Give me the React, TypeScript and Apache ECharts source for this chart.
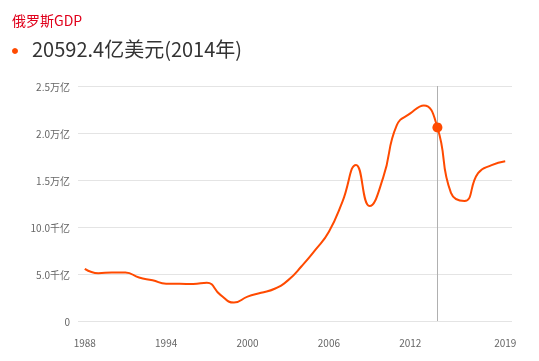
import React, { useEffect, useRef } from "react";
import * as echarts from "echarts";

const years = [
  "1988", "1989", "1990", "1991", "1992", "1993", "1994", "1995", "1996", "1997",
  "1998", "1999", "2000", "2001", "2002", "2003", "2004", "2005", "2006", "2007",
  "2008", "2009", "2010", "2011", "2012", "2013", "2014", "2015", "2016", "2017",
  "2018", "2019",
];
const gdp = [
  5540, 5080, 5168, 5160, 4620, 4330, 3960, 3955, 3930, 4080,
  2780, 1960, 2597, 3000, 3430, 4350, 5850, 7560, 9500, 12700,
  16608, 12236, 15249, 20800, 22083, 22925, 20592.4, 13635, 12768, 15742,
  16576, 16999,
];
const xLabelYears = ["1988", "1994", "2000", "2006", "2012", "2019"];
const yTickValues = [0, 5000, 10000, 15000, 20000, 25000];
const yTickLabels = ["0", "5.0千亿", "10.0千亿", "1.5万亿", "2.0万亿", "2.5万亿"];
const titleText = "俄罗斯GDP";
const highlightYear = "2014";
const highlightText = "20592.4亿美元(2014年)";

export default function App() {
  const ref = useRef<HTMLDivElement>(null);
  useEffect(() => {
    if (!ref.current) return;
    const chart = echarts.init(ref.current, null, { renderer: "svg" });
    const hiIdx = years.indexOf(highlightYear);
    chart.setOption({
      animation: false,
      title: [
        {
          text: titleText,
          left: 7,
          top: 8,
          textStyle: {
            color: "#e0001b",
            fontSize: 14,
            fontWeight: "normal",
            fontFamily: "Noto Sans CJK SC, sans-serif",
          },
        },
        {
          text: highlightText,
          left: 27,
          top: 33,
          textStyle: {
            color: "#333",
            fontSize: 20,
            fontWeight: "normal",
            fontFamily: "Noto Sans CJK SC, sans-serif",
          },
        },
      ],
      graphic: [
        {
          type: "circle",
          shape: { cx: 15, cy: 51, r: 3 },
          style: { fill: "#ff4a00" },
        },
      ],
      grid: { left: 78, right: 27, top: 86, bottom: 40 },
      xAxis: {
        type: "category",
        data: years,
        boundaryGap: true,
        axisLine: { show: false },
        axisTick: { show: false },
        axisLabel: {
          interval: (idx: number, val: string) => xLabelYears.indexOf(val) >= 0,
          color: "#666",
          fontSize: 10,
          margin: 16,
          fontFamily: "Noto Sans CJK SC, sans-serif",
        },
        splitLine: { show: false },
      },
      yAxis: {
        type: "value",
        min: 0,
        max: 25000,
        interval: 5000,
        axisLine: { show: false },
        axisTick: { show: false },
        axisLabel: {
          color: "#666",
          fontSize: 10,
          margin: 8,
          fontFamily: "Noto Sans CJK SC, sans-serif",
          formatter: (v: number) => {
            const i = yTickValues.indexOf(v);
            return i >= 0 ? yTickLabels[i] : "";
          },
        },
        splitLine: { lineStyle: { color: "#e4e4e4", width: 1 } },
      },
      series: [
        {
          type: "line",
          data: gdp,
          smooth: true,
          showSymbol: false,
          lineStyle: { color: "#ff4a00", width: 2 },
          itemStyle: { color: "#ff4a00" },
          markLine: {
            silent: true,
            symbol: "none",
            label: { show: false },
            lineStyle: { color: "#b0b0b0", width: 1, type: "solid" },
            data: [{ xAxis: hiIdx }],
          },
          markPoint: {
            symbol: "circle",
            symbolSize: 10,
            label: { show: false },
            itemStyle: { color: "#ff4a00" },
            data: [{ coord: [hiIdx, gdp[hiIdx]] }],
          },
        },
      ],
    });
    return () => chart.dispose();
  }, []);
  return (
    <div
      ref={ref}
      style={{ position: "fixed", left: 0, top: 0, width: 539, height: 361 }}
    />
  );
}
